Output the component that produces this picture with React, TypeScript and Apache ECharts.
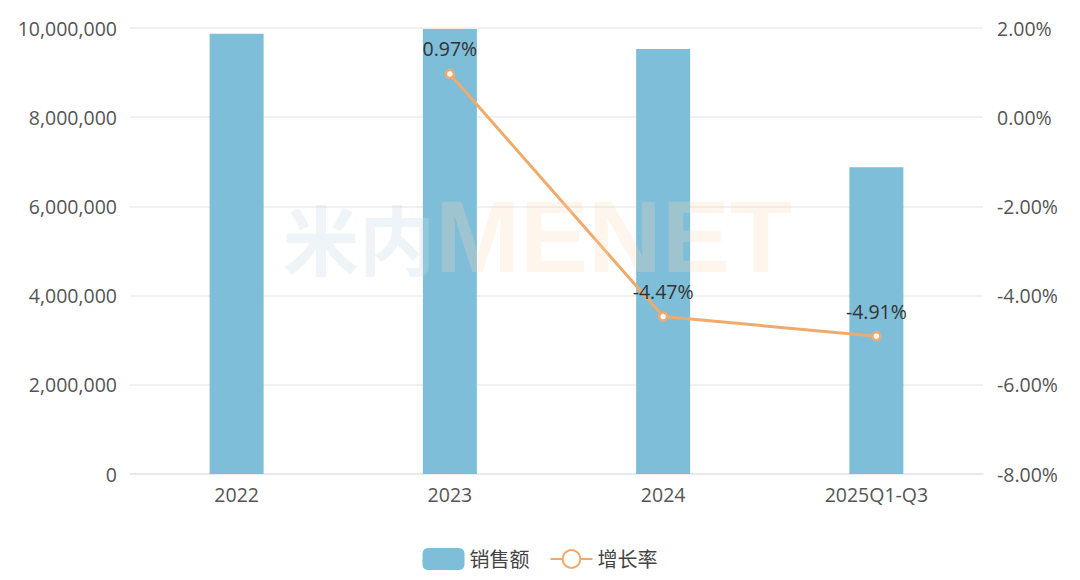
import React, { useEffect, useRef } from "react";
import * as echarts from "echarts";

const categories = ["2022", "2023", "2024", "2025Q1-Q3"];
const salesValues = [9870000, 9975000, 9530000, 6880000];
const growthValues: (number | null)[] = [null, 0.97, -4.47, -4.91];

const FONT = "'Open Sans', 'Noto Sans', 'Noto Sans CJK SC', sans-serif";

export default function App() {
  const ref = useRef<HTMLDivElement>(null);
  useEffect(() => {
    if (!ref.current) return;
    const chart = echarts.init(ref.current, undefined, { renderer: "svg" });
    chart.setOption({
      animation: false,
      textStyle: { fontFamily: FONT },
      grid: { left: 122, right: 89, top: 20, bottom: 98 },
      legend: {
        top: 535,
        left: "center",
        itemWidth: 42,
        itemHeight: 22,
        itemGap: 20,
        textStyle: { fontSize: 20, color: "#444", fontFamily: FONT },
        data: [
          { name: "销售额", icon: "roundRect" },
          { name: "增长率" },
        ],
      },
      xAxis: {
        type: "category",
        data: categories,
        axisTick: { show: false },
        axisLine: { lineStyle: { color: "#e6e6e6", width: 1.5 } },
        axisLabel: { fontSize: 19.5, color: "#555", margin: 11, fontFamily: FONT },
      },
      yAxis: [
        {
          type: "value",
          min: 0,
          max: 10000000,
          interval: 2000000,
          axisLabel: {
            fontSize: 19.5,
            color: "#555",
            margin: 13,
            fontFamily: FONT,
            formatter: (v: number) => v.toLocaleString("en-US"),
          },
          splitLine: { lineStyle: { color: "#ececec", width: 1.5 } },
          axisLine: { show: false },
          axisTick: { show: false },
        },
        {
          type: "value",
          min: -8,
          max: 2,
          interval: 2,
          position: "right",
          axisLabel: {
            fontSize: 19.5,
            color: "#555",
            margin: 14,
            fontFamily: FONT,
            formatter: (v: number) => v.toFixed(2) + "%",
          },
          splitLine: { show: false },
          axisLine: { show: false },
          axisTick: { show: false },
        },
      ],
      series: [
        {
          name: "销售额",
          type: "bar",
          data: salesValues,
          barWidth: 54,
          itemStyle: { color: "#7fbed9" },
        },
        {
          name: "增长率",
          type: "line",
          yAxisIndex: 1,
          data: growthValues,
          connectNulls: false,
          symbol: "circle",
          symbolSize: 8,
          itemStyle: { color: "#fff", borderColor: "#f0aa6c", borderWidth: 2.5 },
          lineStyle: { color: "#f0aa6c", width: 3 },
          label: {
            show: true,
            position: "top",
            distance: 10,
            fontSize: 19.5,
            color: "#333",
            fontFamily: FONT,
            formatter: (p: any) => p.value.toFixed(2) + "%",
          },
          z: 3,
        },
      ],
      graphic: [
        {
          type: "text",
          left: 275,
          top: 178,
          z: 100,
          silent: true,
          style: {
            text: "{a|米内}{b|MENET}",
            rich: {
              a: { fontSize: 76, fontWeight: "bold", fill: "rgba(200,220,230,0.3)", fontFamily: "'Noto Sans CJK SC', sans-serif" },
              b: { fontSize: 102, fontWeight: "bold", fill: "rgba(250,215,185,0.25)", fontFamily: "'Liberation Sans', Arial, sans-serif" },
            },
          },
        },
      ],
    });
    return () => chart.dispose();
  }, []);
  return <div ref={ref} style={{ width: 1064, height: 564 }} />;
}
